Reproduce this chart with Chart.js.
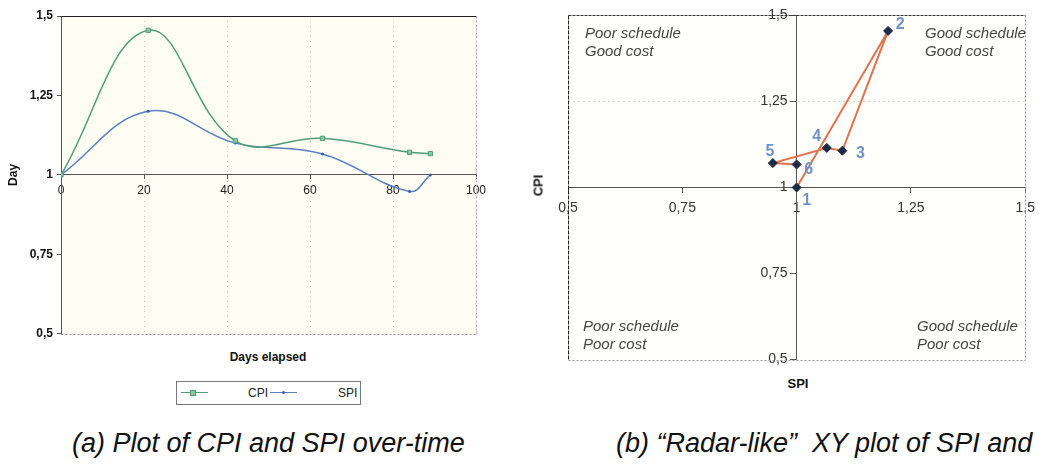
<!DOCTYPE html>
<html><head><meta charset="utf-8">
<script src="https://cdn.jsdelivr.net/npm/chart.js@4.4.1/dist/chart.umd.min.js"></script>
<style>
html,body{margin:0;padding:0;background:#fff;}
body{width:1042px;height:468px;overflow:hidden;position:relative;font-family:"Liberation Sans",Arial,sans-serif;}
.abs{position:absolute;white-space:nowrap;}
.quad{font-style:italic;font-size:15px;line-height:18px;color:#444;}
.cap{font-style:italic;font-size:27px;line-height:30px;color:#111;}
.ttl{font-weight:bold;font-size:12px;line-height:14px;color:#111;text-align:center;}
</style></head><body>
<div class="abs" style="left:0;top:0;width:520px;height:345px"><canvas id="c1" width="520" height="345"></canvas></div>
<div class="abs" style="left:520px;top:0;width:522px;height:375px"><canvas id="c2" width="522" height="375"></canvas></div>

<div class="abs ttl" style="left:168px;top:350px;width:200px;">Days elapsed</div>

<div class="abs" style="left:176px;top:381px;width:183px;height:22px;border:1px solid #777;"></div>
<div class="abs" style="left:181px;top:392px;width:27px;height:1px;background:#4f9e78;"></div>
<div class="abs" style="left:190px;top:390px;width:4px;height:4px;background:#8cc7a4;border:1px solid #4f9e78;"></div>
<div class="abs" style="left:248px;top:385px;font-size:12px;line-height:16px;color:#222;">CPI</div>
<div class="abs" style="left:270px;top:392px;width:27px;height:1px;background:#5b7fc1;"></div>
<div class="abs" style="left:282px;top:391px;width:3px;height:3px;border-radius:50%;background:#3d5f9e;"></div>
<div class="abs" style="left:338px;top:385px;font-size:12px;line-height:16px;color:#222;">SPI</div>

<div class="abs quad" style="left:585px;top:24px;">Poor schedule<br>Good cost</div>
<div class="abs quad" style="left:925px;top:24px;">Good schedule<br>Good cost</div>
<div class="abs quad" style="left:583px;top:317px;">Poor schedule<br>Poor cost</div>
<div class="abs quad" style="left:917px;top:317px;">Good schedule<br>Poor cost</div>

<div class="abs ttl" style="left:518px;top:178px;width:40px;font-size:13px;line-height:15px;transform:rotate(-90deg);">CPI</div>
<div class="abs ttl" style="left:768px;top:376px;width:60px;font-size:13px;line-height:15px;">SPI</div>

<div class="abs cap" style="left:72px;top:428px;">(a) Plot of CPI and SPI over-time</div>
<div class="abs cap" style="left:616px;top:428px;">(b) “Radar-like”&nbsp; XY plot of SPI and</div>

<script>
// ---- data ----
const days = [0, 21, 42, 63, 84, 89];
const cpi = [1.0, 1.455, 1.107, 1.115, 1.071, 1.067];
const spi = [1.0, 1.2, 1.1, 1.066, 0.948, 1.0];
const pointNames = ['1', '2', '3', '4', '5', '6'];
const dayTicks = ['0', '20', '40', '60', '80', '100'];
const indexTicks = ['0,5', '0,75', '1', '1,25', '1,5'];

Chart.defaults.font.family = '"Liberation Sans", Arial, sans-serif';
Chart.defaults.animation = false;

const bgPlugin = {
  id: 'bg',
  beforeDraw(chart, args, opts) {
    const a = chart.chartArea, ctx = chart.ctx;
    ctx.save();
    ctx.fillStyle = opts.color;
    ctx.fillRect(a.left, a.top, a.right - a.left, a.bottom - a.top);
    ctx.restore();
  },
  beforeDatasetsDraw(chart, args, opts) {
    const a = chart.chartArea, ctx = chart.ctx;
    const side = (x1, y1, x2, y2, color, dash) => {
      ctx.save();
      ctx.strokeStyle = color; ctx.lineWidth = 1; ctx.setLineDash(dash);
      ctx.beginPath(); ctx.moveTo(x1, y1); ctx.lineTo(x2, y2); ctx.stroke();
      ctx.restore();
    };
    const L = Math.round(a.left) + 0.5, R = Math.round(a.right) + 0.5, T = Math.round(a.top) + 0.5, B = Math.round(a.bottom) + 0.5;
    side(L, T, R, T, opts.top.c, opts.top.d);
    side(R, T, R, B, opts.right.c, opts.right.d);
    side(L, B, R, B, opts.bottom.c, opts.bottom.d);
    side(L, T, L, B, opts.left.c, opts.left.d);
  }
};

// shift labels of an axis placed at a data value away from the axis line
function shiftLabels(scale, dx) {
  if (scale._shiftPatched) return;
  const orig = scale._computeLabelItems;
  scale._computeLabelItems = function (ca) {
    const items = orig.call(this, ca);
    items.forEach(it => { it.options.translation = [it.options.translation[0] + dx, it.options.translation[1]]; });
    return items;
  };
  scale._shiftPatched = true;
}

// ---- chart (a) ----
new Chart(document.getElementById('c1'), {
  type: 'line',
  data: {
    datasets: [
      {
        label: 'CPI',
        data: days.map((d, i) => ({x: d, y: cpi[i]})),
        borderColor: '#4f9e78', borderWidth: 1.5, tension: 0.4,
        pointStyle: 'rect', pointRadius: 3, pointBackgroundColor: '#8cc7a4', pointBorderColor: '#4f9e78', pointBorderWidth: 1
      },
      {
        label: 'SPI',
        data: days.map((d, i) => ({x: d, y: spi[i]})),
        borderColor: '#5b7fc1', borderWidth: 1.5, tension: 0.4,
        pointStyle: 'circle', pointRadius: 1.5, pointBackgroundColor: '#3d5f9e', pointBorderColor: '#3d5f9e', pointBorderWidth: 0
      }
    ]
  },
  options: {
    responsive: false, devicePixelRatio: 1,
    layout: {padding: {left: 0, top: 16, right: 44, bottom: 9}},
    plugins: {
      legend: {display: false}, tooltip: {enabled: false},
      bg: {color: '#fdfdf3',
        top: {c: '#222', d: []}, right: {c: '#aaa', d: [2, 2]}, bottom: {c: '#999', d: [2, 2]}, left: {c: '#555', d: []}}
    },
    scales: {
      x: {
        type: 'linear', position: {y: 1}, min: 0, max: 100,
        ticks: {stepSize: 20, padding: 5, color: '#222', font: {size: 12}, callback: (v, i) => dayTicks[i]},
        grid: {color: '#c8c8c8', lineWidth: 1, tickLength: 4, tickColor: '#555'},
        border: {display: true, color: '#555', width: 1, dash: [1, 4]}
      },
      y: {
        min: 0.5, max: 1.5,
        ticks: {stepSize: 0.25, padding: 4, color: '#111', font: {size: 12, weight: 'bold'}, callback: (v, i) => indexTicks[i]},
        grid: {drawOnChartArea: false, tickLength: 4, tickColor: '#555'},
        border: {display: true, color: '#555', width: 1},
        title: {display: true, text: 'Day', color: '#111', font: {size: 12, weight: 'bold'}, padding: {top: 6, bottom: 0}},
        afterFit: s => { s.width = 61; }
      }
    }
  },
  plugins: [bgPlugin]
});

// ---- chart (b) ----
const labelPlugin = {
  id: 'ptlabels',
  afterDatasetsDraw(chart, args, opts) {
    const meta = chart.getDatasetMeta(0), ctx = chart.ctx;
    ctx.save();
    ctx.fillStyle = opts.color;
    ctx.font = opts.font;
    ctx.textAlign = 'center'; ctx.textBaseline = 'middle';
    meta.data.forEach((el, i) => {
      const o = opts.offsets[i];
      ctx.fillText(pointNames[i], el.x + o[0], el.y + o[1]);
    });
    ctx.restore();
  }
};

new Chart(document.getElementById('c2'), {
  type: 'scatter',
  data: {
    datasets: [{
      label: 'CPI vs SPI',
      data: spi.map((s, i) => ({x: s, y: cpi[i]})),
      showLine: true, borderColor: '#e2734f', borderWidth: 2, tension: 0,
      pointStyle: 'rectRot', pointRadius: 4.5, pointBackgroundColor: '#1c2a48', pointBorderColor: '#1c2a48', pointBorderWidth: 1
    }]
  },
  options: {
    responsive: false, devicePixelRatio: 1,
    layout: {padding: {left: 48, top: 15, right: 10, bottom: 15}},
    plugins: {
      legend: {display: false}, tooltip: {enabled: false},
      bg: {color: '#fffffb',
        top: {c: '#333', d: [3, 1]}, right: {c: '#999', d: [2, 2]}, bottom: {c: '#999', d: [2, 2]}, left: {c: '#222', d: [4, 1]}},
      ptlabels: {color: '#6f93c9', font: 'bold 16px "Liberation Sans", Arial, sans-serif',
        offsets: [[10, 13], [12, -6], [18, 3], [-10, -11], [-3, -11], [12, 5]]}
    },
    scales: {
      x: {
        type: 'linear', position: {y: 1}, min: 0.5, max: 1.5,
        ticks: {stepSize: 0.25, padding: 7, color: '#333', font: {size: 14}, callback: (v, i) => indexTicks[i]},
        grid: {drawOnChartArea: false, tickLength: 5, tickColor: '#555'},
        border: {display: true, color: '#555', width: 1}
      },
      y: {
        type: 'linear', position: {x: 1}, min: 0.5, max: 1.5,
        ticks: {stepSize: 0.25, padding: 7, color: '#333', font: {size: 14}, callback: (v, i) => indexTicks[i]},
        grid: {color: c => (c.tick && c.tick.value === 1.25) ? '#d8d8c8' : 'rgba(0,0,0,0)', tickLength: 6, tickColor: '#555'},
        border: {display: true, color: '#555', width: 1, dash: [2, 3]},
        afterUpdate: s => shiftLabels(s, -9)
      }
    }
  },
  plugins: [bgPlugin, labelPlugin]
});
</script>
</body></html>
